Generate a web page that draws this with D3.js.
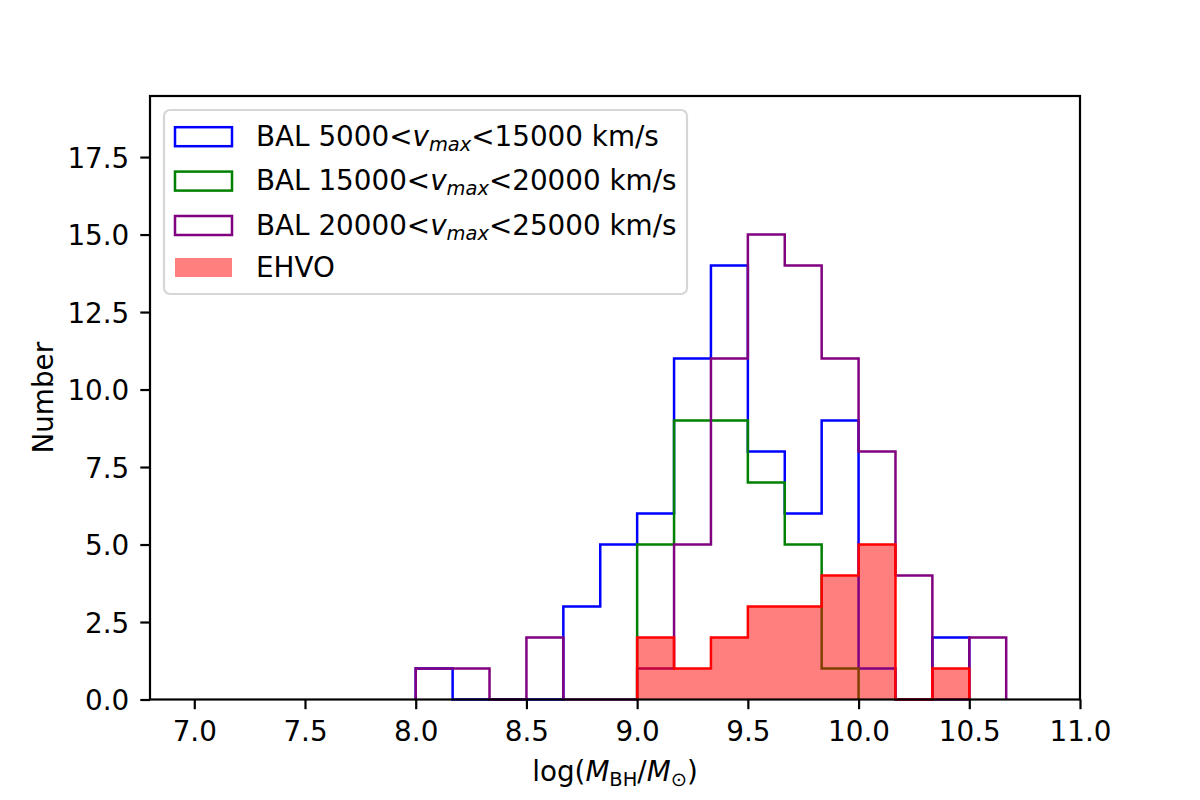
<!DOCTYPE html>
<html>
<head>
<meta charset="utf-8">
<script src="https://cdn.jsdelivr.net/npm/d3@7"></script>
<style>
  body { margin: 0; background: #fff; }
  svg { display: block; font-family: 'DejaVu Sans', sans-serif; }
</style>
</head>
<body>
<svg id="chart" width="1200" height="800"></svg>
<script>
// bin edges of log(M_BH/M_sun), width 1/6 dex
const binEdges = [8.0, 8.1667, 8.3333, 8.5, 8.6667, 8.8333, 9.0, 9.1667, 9.3333,
  9.5, 9.6667, 9.8333, 10.0, 10.1667, 10.3333, 10.5, 10.6667]

// counts per bin
const balLow = [1, 0, 0, 0, 3, 5, 6, 11, 14, 8, 6, 9, 1, 0, 2, 0]
const balMid = [0, 0, 0, 0, 0, 0, 5, 9, 9, 7, 5, 1, 0, 0, 0, 0]
const balHigh = [1, 1, 0, 2, 0, 0, 1, 5, 11, 15, 14, 11, 8, 4, 0, 2]
const ehvo = [0, 0, 0, 0, 0, 0, 2, 1, 2, 3, 3, 4, 5, 0, 1, 0]

const vmaxRanges = [[5000, 15000], [15000, 20000], [20000, 25000]]
const ehvoLabel = 'EHVO'

const xTicks = [7.0, 7.5, 8.0, 8.5, 9.0, 9.5, 10.0, 10.5, 11.0]
const yTicks = [0, 2.5, 5.0, 7.5, 10.0, 12.5, 15.0, 17.5]

const fs = 27.8
const lw = 2.5
const box = { left: 150, right: 1080, top: 96, bottom: 699.5 }

const svg = d3.select('#chart')

const x = d3.scaleLinear()
  .domain([6.8, 11.0])
  .range([box.left, box.right])

const y = d3.scaleLinear()
  .domain([0, 19.47])
  .range([box.bottom, box.top])

// step outline of a histogram, like matplotlib histtype='step'
// (empty bins at both ends are left out)
const stepPoints = values => {
  const first = values.findIndex(v => v > 0)
  const last = values.length - 1 - [...values].reverse().findIndex(v => v > 0)
  const pts = [[binEdges[first], 0]]
  for (let i = first; i <= last; i++) {
    pts.push([binEdges[i], values[i]])
    pts.push([binEdges[i + 1], values[i]])
  }
  pts.push([binEdges[last + 1], 0])
  return pts
}

const line = d3.line()
  .x(d => x(d[0]))
  .y(d => y(d[1]))

const series = [
  { values: balLow, color: '#0000ff' },
  { values: balMid, color: '#008000' },
  { values: balHigh, color: '#800080' }
]

const plot = svg.append('g').classed('plot', true)

plot.selectAll('path.bal')
  .data(series)
  .enter().append('path')
    .classed('bal', true)
    .attr('d', d => line(stepPoints(d.values)))
    .attr('fill', 'none')
    .attr('stroke', d => d.color)
    .attr('stroke-width', lw)
    .attr('stroke-linejoin', 'miter')

// EHVO: translucent fill, then solid red edge
plot.append('path')
  .attr('d', line(stepPoints(ehvo)) + 'Z')
  .attr('fill', '#ff0000')
  .attr('fill-opacity', 0.5)
  .attr('stroke', 'none')

plot.append('path')
  .attr('d', line(stepPoints(ehvo)))
  .attr('fill', 'none')
  .attr('stroke', '#ff0000')
  .attr('stroke-width', lw)
  .attr('stroke-linejoin', 'miter')

// axes
const xAxis = svg.append('g')
  .attr('transform', `translate(0, ${box.bottom})`)
  .call(d3.axisBottom(x)
    .tickValues(xTicks)
    .tickFormat(d3.format('.1f'))
    .tickSize(9.7)
    .tickSizeOuter(0)
    .tickPadding(12.5))

const yAxis = svg.append('g')
  .attr('transform', `translate(${box.left}, 0)`)
  .call(d3.axisLeft(y)
    .tickValues(yTicks)
    .tickFormat(d3.format('.1f'))
    .tickSize(9.7)
    .tickSizeOuter(0)
    .tickPadding(11))

for (const ax of [xAxis, yAxis]) {
  ax.select('.domain').remove()
  ax.selectAll('line').attr('stroke', '#000').attr('stroke-width', 2.2)
  ax.selectAll('text')
    .attr('fill', '#000')
    .style('font-size', `${fs}px`)
    .style('font-family', 'DejaVu Sans')
}
yAxis.selectAll('text').attr('dy', '0.36em')

// frame
svg.append('rect')
  .attr('x', box.left)
  .attr('y', box.top)
  .attr('width', box.right - box.left)
  .attr('height', box.bottom - box.top)
  .attr('fill', 'none')
  .attr('stroke', '#000')
  .attr('stroke-width', 2.2)

// axis labels
const xl = svg.append('text')
  .attr('x', (box.left + box.right) / 2)
  .attr('y', 781)
  .attr('text-anchor', 'middle')
  .style('font-size', `${fs}px`)
xl.append('tspan').text('log(')
xl.append('tspan').attr('font-style', 'italic').text('M')
xl.append('tspan').attr('dy', 4.5).style('font-size', `${fs * 0.7}px`).text('BH')
xl.append('tspan').attr('dy', -4.5).text('/')
xl.append('tspan').attr('font-style', 'italic').text('M')
xl.append('tspan').attr('dy', 4.5).style('font-size', `${fs * 0.7}px`).text('\u2299')
xl.append('tspan').attr('dy', -4.5).text(')')

svg.append('text')
  .attr('transform', `translate(53, ${(box.top + box.bottom) / 2}) rotate(-90)`)
  .attr('text-anchor', 'middle')
  .style('font-size', `${fs}px`)
  .text('Number')

// legend
const legend = svg.append('g').classed('legend', true)

legend.append('rect')
  .attr('x', 164)
  .attr('y', 110)
  .attr('width', 523)
  .attr('height', 184)
  .attr('rx', 6)
  .attr('fill', '#fff')
  .attr('fill-opacity', 0.8)
  .attr('stroke', '#d6d6d6')
  .attr('stroke-width', 2.2)

const rowH = 44.4
const rows = legend.selectAll('g.row')
  .data(series)
  .enter().append('g')
    .classed('row', true)
    .attr('transform', (d, i) => `translate(175, ${127.2 + i * rowH})`)

rows.append('rect')
  .attr('x', 0)
  .attr('y', 0)
  .attr('width', 57)
  .attr('height', 19)
  .attr('fill', 'none')
  .attr('stroke', d => d.color)
  .attr('stroke-width', lw)

const labels = rows.append('text')
  .attr('x', 81)
  .attr('y', 18.5)
  .style('font-size', `${fs}px`)
labels.append('tspan').text((d, i) => `BAL ${vmaxRanges[i][0]}<`)
labels.append('tspan').attr('font-style', 'italic').text('v')
labels.append('tspan')
  .attr('font-style', 'italic')
  .attr('dy', 5)
  .style('font-size', `${fs * 0.7}px`)
  .text('max')
labels.append('tspan').attr('dy', -5).text((d, i) => `<${vmaxRanges[i][1]} km/s`)

const ehvoRow = legend.append('g')
  .attr('transform', 'translate(175, 258)')
ehvoRow.append('rect')
  .attr('x', 0)
  .attr('y', 0)
  .attr('width', 57)
  .attr('height', 19)
  .attr('fill', '#ff0000')
  .attr('fill-opacity', 0.5)
ehvoRow.append('text')
  .attr('x', 81)
  .attr('y', 19)
  .style('font-size', `${fs}px`)
  .text(ehvoLabel)
</script>
</body>
</html>
